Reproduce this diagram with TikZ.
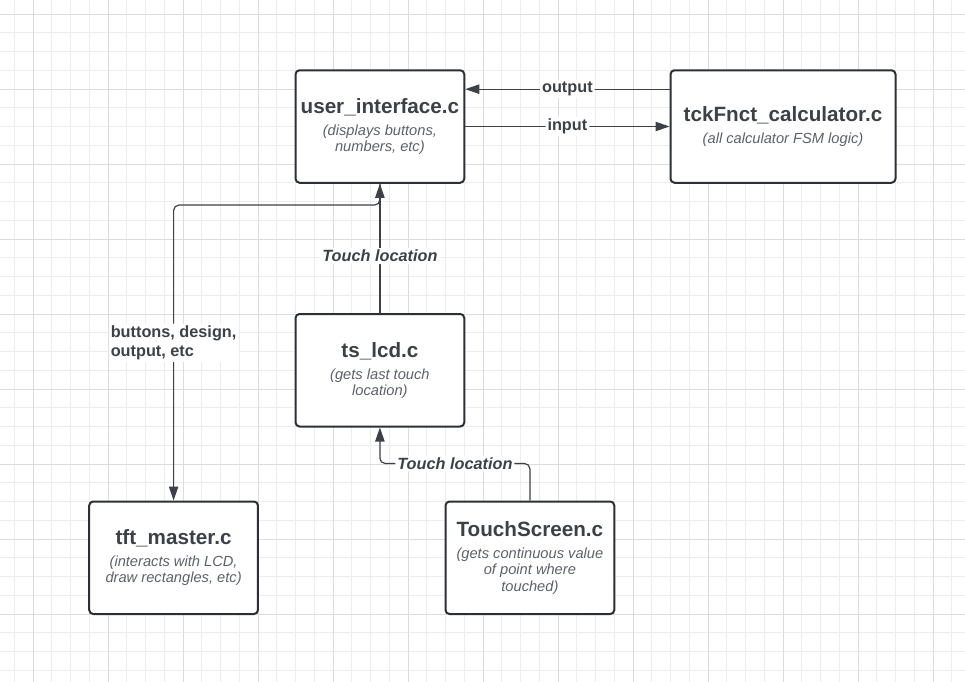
\documentclass[tikz,border=0pt]{standalone}
\usepackage{fontspec}
\setmainfont{Liberation Sans}
\usetikzlibrary{arrows.meta}
\definecolor{bordercol}{HTML}{2B3038}
\definecolor{titlecol}{HTML}{3B4149}
\definecolor{subcol}{HTML}{5C626B}
\definecolor{linecol}{HTML}{3B4149}
\definecolor{gridminor}{HTML}{EDEDED}
\definecolor{gridmajor}{HTML}{DCDCDC}
\newcommand{\boxtitle}[1]{{\fontsize{15.5}{18}\selectfont\bfseries\upshape\color{titlecol}#1}}
\newcommand{\boxsub}[1]{{\fontsize{11}{12.3}\selectfont\itshape\mdseries\color{subcol}#1}}
\begin{document}
\begin{tikzpicture}[x=0.75pt,y=-0.75pt,
  modbox/.style={draw=bordercol, line width=1.5pt, rounded corners=3pt, fill=white,
    align=center, font=\fontsize{11}{12.3}\selectfont, text=subcol, inner sep=0pt,
    minimum width=126.56pt, minimum height=84.375pt},
  conn/.style={draw=linecol, line width=0.9pt, rounded corners=4pt},
  tip/.style={-{Triangle[length=10.5pt,width=7pt]}},
  lbl/.style={fill=white, font=\fontsize{12.2}{14.3}\selectfont\bfseries, text=titlecol, inner sep=1.5pt},
  lbli/.style={lbl, font=\fontsize{12.2}{14.3}\selectfont\bfseries\itshape}
]
\useasboundingbox (0,0) rectangle (965,682);
\fill[white] (0,0) rectangle (965,682);
\begin{scope}
\clip (0,0) rectangle (965,682);
\foreach \i in {0,...,51} \draw[gridminor, line width=0.75pt] ({-4.5+18.75*\i},0) -- ({-4.5+18.75*\i},682);
\foreach \i in {0,...,36} \draw[gridminor, line width=0.75pt] (0,{-4.75+18.75*\i}) -- (965,{-4.75+18.75*\i});
\foreach \i in {0,...,12} \draw[gridminor, line width=1pt] ({-4.5+75*\i},0) -- ({-4.5+75*\i},682);
\foreach \i in {0,...,9} \draw[gridminor, line width=1pt] (0,{-23.5+75*\i}) -- (965,{-23.5+75*\i});
\foreach \i in {0,...,12} \draw[gridmajor, line width=0.75pt] ({33+75*\i},0) -- ({33+75*\i},682);
\foreach \i in {0,...,8} \draw[gridmajor, line width=0.75pt] (0,{14+75*\i}) -- (965,{14+75*\i});
\end{scope}

\node[modbox] (ui) at (379.9,126.5) {\boxtitle{user\_interface.c}\\[4.2pt]\boxsub{(displays buttons,}\\\boxsub{numbers, etc)}};
\node[modbox, minimum width=168.75pt] (tck) at (783,126.5) {\boxtitle{tckFnct\_calculator.c}\\[4.2pt]\boxsub{(all calculator FSM logic)}};
\node[modbox] (ts) at (379.9,370.25) {\boxtitle{ts\_lcd.c}\\[4.2pt]\boxsub{(gets last touch}\\\boxsub{location)}};
\node[modbox] (tft) at (173.6,557.75) {\boxtitle{tft\_master.c}\\[4.2pt]\boxsub{(interacts with LCD,}\\\boxsub{draw rectangles, etc)}};
\node[modbox] (tsc) at (529.9,557.75) {\boxtitle{TouchScreen.c}\\[4.2pt]\boxsub{(gets continuous value}\\\boxsub{of point where}\\\boxsub{touched)}};

\draw[conn, tip] ([yshift=28pt]tck.west) -- node[lbl] {output} ([yshift=28pt]ui.east);
\draw[conn, tip] (ui.east) -- node[lbl] {input} (tck.west);
\draw[conn, tip] (ts.north) -- node[lbli, pos=0.44] {Touch location} (ui.south);
\draw[conn, tip] (ui.south) -- ([yshift=-16pt]ui.south) -| node[lbl, align=left, pos=0.733] {buttons, design,\\output, etc} (tft.north);
\draw[conn, tip] (tsc.north) -- ([yshift=27.75pt]tsc.north) -| node[lbli, pos=0.25] {Touch location} (ts.south);
\end{tikzpicture}
\end{document}
